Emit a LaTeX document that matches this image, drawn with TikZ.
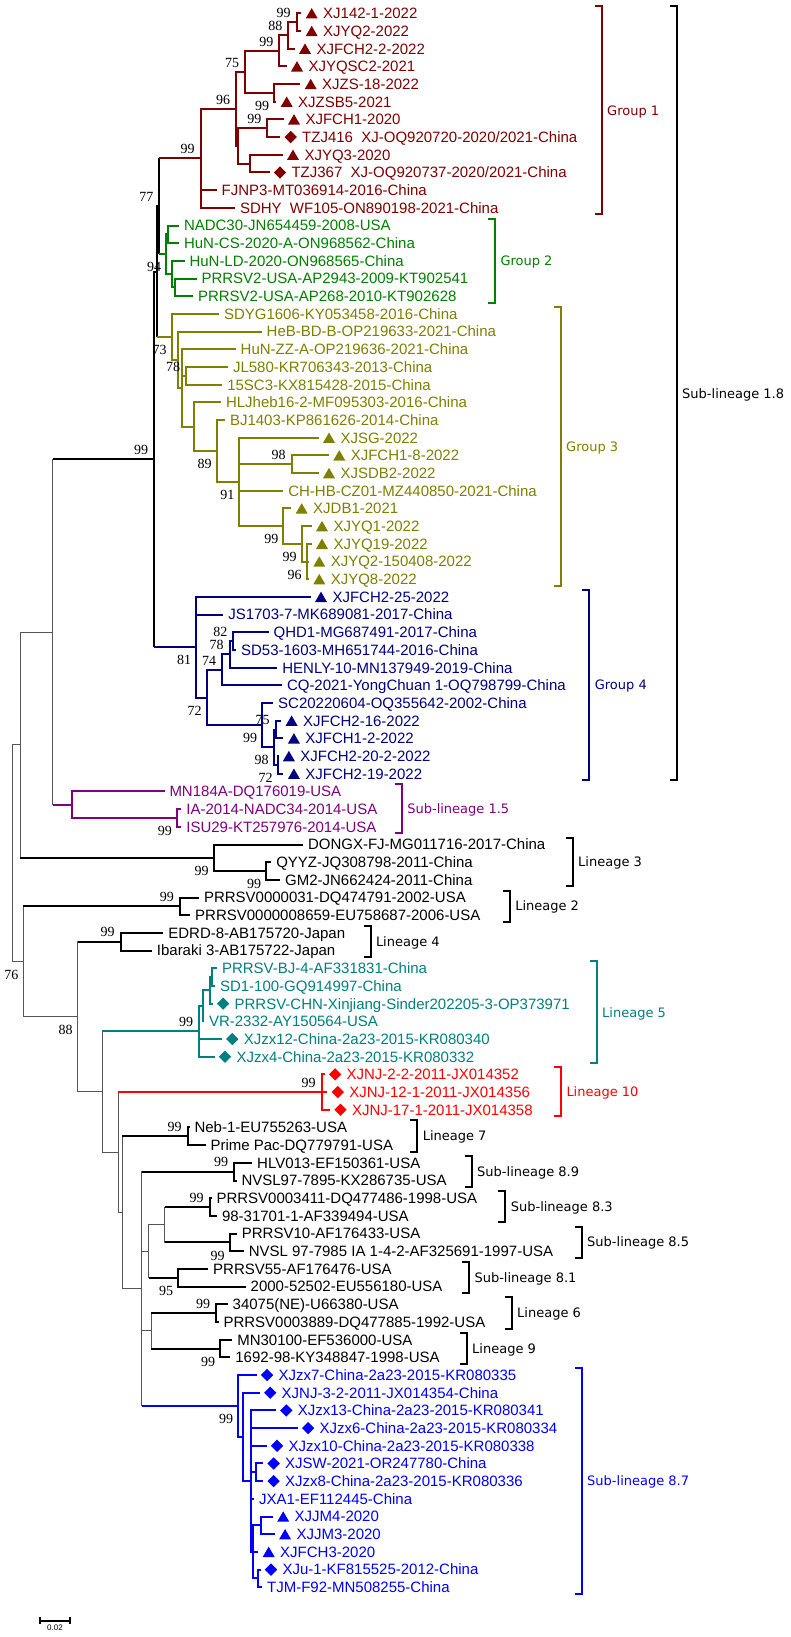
\documentclass[tikz,border=0pt]{standalone}
\usepackage{fontspec}
\setmainfont{Liberation Sans}
\newfontfamily\bsfont{Liberation Serif}
\newfontfamily\grfont{DejaVu Sans}
\usetikzlibrary{positioning}
\usetikzlibrary{shapes.geometric}
\definecolor{g1}{RGB}{128,0,0}
\definecolor{g2}{RGB}{0,128,0}
\definecolor{g3}{RGB}{128,128,0}
\definecolor{g4}{RGB}{0,0,128}
\definecolor{s15}{RGB}{128,0,128}
\definecolor{l5}{RGB}{0,128,128}
\definecolor{l10}{RGB}{255,0,0}
\definecolor{s87}{RGB}{0,0,255}
\definecolor{bbgray}{RGB}{85,85,85}

\begin{document}
\begin{tikzpicture}[
    x=1pt, y=-1pt,
    br/.style={line width=2pt},
    bb/.style={line width=1pt, draw=bbgray, line cap=rect},
    brk/.style={line width=2pt},
    lf/.style={
        anchor=west, inner sep=0pt, outer sep=0pt,
        text height=10.7pt, text depth=0pt,
        font=\fontsize{15pt}{18pt}\selectfont
    },
    bs/.style={
        inner sep=0pt, text height=9.4pt, text depth=0pt,
        font=\bsfont\fontsize{14pt}{16pt}\selectfont
    },
    grp/.style={
        anchor=west, inner sep=0pt, outer sep=0pt,
        text height=9.5pt, text depth=0pt,
        font=\grfont\fontsize{13pt}{15pt}\selectfont
    },
    tri/.style={
        regular polygon, regular polygon sides=3, fill,
        inner sep=0pt, minimum size=13.9pt, yshift=-1.7pt
    },
    dia/.style={
        diamond, fill, aspect=1, inner sep=0pt, minimum size=12.5pt
    }
]
    \fill[white] (0,0) rectangle (791,1637);
    \useasboundingbox (0,0) rectangle (791,1637);

    % leaf tips
    \foreach \i/\x in {
        0/301.2, 1/301.2, 2/294.5, 3/286.5, 4/300.2, 5/276.2, 6/283.5,
        7/280.2, 8/282.5, 9/269.5, 10/216.7, 11/235, 12/179, 13/179,
        14/184.5, 15/196.5, 16/193, 17/219, 18/261.7, 19/235.7, 20/228,
        21/222.3, 22/221, 23/225, 24/318.5, 25/328.8, 26/318.5, 27/283.3,
        28/291.2, 29/311.5, 30/311.5, 31/308.8, 32/308.8, 33/310.5,
        34/223.3, 35/268.6, 36/236.1, 37/277.4, 38/282, 39/273.2,
        40/281.1, 41/283.4, 42/278.4, 43/283.4, 44/164.5, 45/181.4,
        46/181.4, 47/303, 48/271.3, 49/280.1, 50/199, 51/190.2, 52/163.4,
        53/151.9, 54/217, 55/215, 56/212.6, 57/204, 58/221.8, 59/214.5,
        60/324.6, 61/327.3, 62/330, 63/189.5, 64/205.5, 65/252.2,
        66/236.5, 67/211.5, 68/217, 69/236.9, 70/243.8, 71/208.2,
        72/245.7, 73/227.7, 74/218.5, 75/232.3, 76/230.4, 77/256.6,
        78/259.7, 79/275.8, 80/297.6, 81/266.6, 82/263.1, 83/263.1,
        84/254, 85/272.7, 86/274.6, 87/258.2, 88/260.5, 89/262.1}
        \coordinate (t\i) at (\x,{13.3+17.685*\i});

    % inner nodes
    \coordinate (nC) at (296.7,22.15);
    \coordinate (nB) at (288.3,35.4);
    \coordinate (nA) at (279.3,50.9);
    \coordinate (nZS) at (274,92.85);
    \coordinate (n75) at (245,71.9);
    \coordinate (nF) at (267.3,128.25);
    \coordinate (nQ) at (250,163.65);
    \coordinate (nX) at (238.3,145.95);
    \coordinate (n96) at (236,108.9);
    \coordinate (g1r) at (200.7,158.35);
    \coordinate (G2a) at (168.3,234.35);
    \coordinate (G2c) at (175,287.45);
    \coordinate (G2b) at (171.7,274.2);
    \coordinate (g2r) at (166,254.3);
    \coordinate (U2) at (159.3,206.3);
    \coordinate (nJL) at (186,375.85);
    \coordinate (n98g3) at (291.7,464.25);
    \coordinate (n96g3) at (306.7,561.55);
    \coordinate (n99b) at (301.7,543.9);
    \coordinate (n99a) at (283.3,526.2);
    \coordinate (n91) at (239.3,481.95);
    \coordinate (n89) at (216.7,451.0);
    \coordinate (nH) at (194.3,426.7);
    \coordinate (G3c) at (182.3,388.0);
    \coordinate (G3b) at (178.3,359.8);
    \coordinate (g3r) at (171.7,336.85);
    \coordinate (U) at (156.7,271.6);
    \coordinate (n82) at (233.4,641.15);
    \coordinate (n78) at (229.6,654.4);
    \coordinate (n74) at (222,669.85);
    \coordinate (n75g4) at (275.5,729.55);
    \coordinate (n72b) at (277.5,764.95);
    \coordinate (n98g4) at (273.6,747.25);
    \coordinate (n99g4) at (262.1,725.1);
    \coordinate (n72) at (206.7,697.5);
    \coordinate (g4r) at (196,647.2);
    \coordinate (A) at (154,459.4);
    \coordinate (nIA) at (176.8,817.95);
    \coordinate (n15) at (71.7,804.7);
    \coordinate (P1) at (52.7,632.05);
    \coordinate (nQY) at (266,871.05);
    \coordinate (L3) at (213.5,857.8);
    \coordinate (P2) at (20,744.9);
    \coordinate (L2) at (179.9,906.4);
    \coordinate (L4) at (120.6,941.75);
    \coordinate (nBJ) at (212.4,977.15);
    \coordinate (nSD) at (209.7,990.4);
    \coordinate (nVR) at (202.8,1005.85);
    \coordinate (L5) at (199,1031.3);
    \coordinate (L10) at (321.5,1092.1);
    \coordinate (L7) at (187.5,1136.35);
    \coordinate (n89b) at (234.2,1171.65);
    \coordinate (n83) at (209.7,1207.05);
    \coordinate (n85) at (229.6,1242.4);
    \coordinate (n8385) at (164.6,1224.7);
    \coordinate (n81) at (178,1277.75);
    \coordinate (nK) at (148.5,1251.2);
    \coordinate (L6) at (216.2,1313.15);
    \coordinate (L9) at (220,1348.55);
    \coordinate (nL69) at (151.2,1330.85);
    \coordinate (nJM) at (261,1525.35);
    \coordinate (nXU) at (258.3,1578.45);
    \coordinate (nLow) at (252.6,1551.9);
    \coordinate (nSW) at (255.6,1472.35);
    \coordinate (n87c) at (250.7,1481.15);
    \coordinate (n87b) at (243,1436.9);
    \coordinate (n87) at (238,1405.95);
    \coordinate (nW) at (141.7,1288.8);
    \coordinate (nZ) at (122,1212.6);
    \coordinate (nY) at (118.3,1152.35);
    \coordinate (nX10) at (102,1091.8);
    \coordinate (n88) at (77.5,1016.8);
    \coordinate (P3) at (23.3,961.6);
    \coordinate (R) at (12.7,853.25);

    % backbone
    \foreach \pa/\ch in {R/P2, R/P3, P2/P1, P3/n88, n88/nX10, nX10/nY,
        nY/nZ, nZ/nW, nW/nK, nK/n8385, nW/nL69}
        \draw[bb] (\pa) |- (\ch);
    \foreach \pa/\ch/\col in {P1/A/black, P1/n15/s15, P2/L3/black,
        P3/L2/black, n88/L4/black, nX10/L5/l5, nY/L10/l10, nZ/L7/black,
        nW/n89b/black, nW/n87/s87, nK/n81/black, n8385/n83/black,
        n8385/n85/black, nL69/L6/black, nL69/L9/black}
    {
        \draw[bb] (\pa) -- (\pa |- \ch);
        \draw[br, \col] (\pa |- \ch) -- (\ch);
    }
    \foreach \pa/\ch in {A/U, U/U2}
        \draw[br] (\pa) |- (\ch);
    \foreach \pa/\ch/\col in {U2/g1r/g1, U2/g2r/g2, U/g3r/g3, A/g4r/g4}
    {
        \draw[br] (\pa) -- (\pa |- \ch);
        \draw[br, \col] (\pa |- \ch) -- (\ch);
    }

    % clades
    \foreach \pa/\ch in {nC/t0, nC/t1, nB/nC, nB/t2, nA/nB, nA/t3,
        nZS/t4, nZS/t5, n75/nA, n75/nZS, nF/t6, nF/t7, nQ/t8, nQ/t9,
        nX/nF, nX/nQ, n96/n75, n96/nX, g1r/n96, g1r/t10, g1r/t11}
        \draw[br, g1] (\pa) |- (\ch);
    \foreach \pa/\ch in {G2a/t12, G2a/t13, G2c/t15, G2c/t16, G2b/t14,
        G2b/G2c, g2r/G2a, g2r/G2b}
        \draw[br, g2] (\pa) |- (\ch);
    \foreach \pa/\ch in {nJL/t20, nJL/t21, n98g3/t25, n98g3/t26,
        n96g3/t30, n96g3/t31, n96g3/t32, n99b/t29, n99b/n96g3, n99a/t28,
        n99a/n99b, n91/t24, n91/n98g3, n91/t27, n91/n99a, n89/t23,
        n89/n91, nH/t22, nH/n89, G3c/t19, G3c/nJL, G3c/nH, G3b/t18,
        G3b/G3c, g3r/t17, g3r/G3b}
        \draw[br, g3] (\pa) |- (\ch);
    \foreach \pa/\ch in {n82/t35, n82/t36, n78/n82, n78/t37, n74/n78,
        n74/t38, n75g4/t40, n75g4/t41, n72b/t42, n72b/t43, n98g4/n75g4,
        n98g4/n72b, n99g4/t39, n99g4/n98g4, n72/n74, n72/n99g4,
        g4r/t33, g4r/t34, g4r/n72}
        \draw[br, g4] (\pa) |- (\ch);
    \foreach \pa/\ch in {nIA/t45, nIA/t46, n15/t44, n15/nIA}
        \draw[br, s15] (\pa) |- (\ch);
    \foreach \pa/\ch in {nQY/t48, nQY/t49, L3/t47, L3/nQY, L2/t50,
        L2/t51, L4/t52, L4/t53, L7/t63, L7/t64, n89b/t65, n89b/t66,
        n83/t67, n83/t68, n85/t69, n85/t70, n81/t71, n81/t72, L6/t73,
        L6/t74, L9/t75, L9/t76}
        \draw[br] (\pa) |- (\ch);
    \foreach \pa/\ch in {nBJ/t54, nBJ/t55, nSD/nBJ, nSD/t56, nVR/nSD,
        nVR/t57, L5/nVR, L5/t58, L5/t59}
        \draw[br, l5] (\pa) |- (\ch);
    \foreach \pa/\ch in {L10/t60, L10/t61, L10/t62}
        \draw[br, l10] (\pa) |- (\ch);
    \foreach \pa/\ch in {nJM/t85, nJM/t86, nXU/t88, nXU/t89, nLow/nJM,
        nLow/t87, nLow/nXU, nSW/t82, nSW/t83, n87c/t79, n87c/t80,
        n87c/t81, n87c/nSW, n87c/t84, n87c/nLow, n87b/t78, n87b/n87c,
        n87/t77, n87/n87b}
        \draw[br, s87] (\pa) |- (\ch);

    % markers
    \foreach \i in {0,1,2,3,4,5,6,8}
        \node[tri, g1] (m\i) at ([xshift=10.5pt]t\i) {};
    \foreach \i in {7,9}
        \node[dia, g1] (m\i) at ([xshift=10.5pt]t\i) {};
    \foreach \i in {24,25,26,28,29,30,31,32}
        \node[tri, g3] (m\i) at ([xshift=10.5pt]t\i) {};
    \foreach \i in {33,40,41,42,43}
        \node[tri, g4] (m\i) at ([xshift=10.5pt]t\i) {};
    \foreach \i in {56,58,59}
        \node[dia, l5] (m\i) at ([xshift=10.5pt]t\i) {};
    \foreach \i in {60,61,62}
        \node[dia, l10] (m\i) at ([xshift=10.5pt]t\i) {};
    \foreach \i in {77,78,79,80,81,82,83,88}
        \node[dia, s87] (m\i) at ([xshift=10.5pt]t\i) {};
    \foreach \i in {85,86,87}
        \node[tri, s87] (m\i) at ([xshift=10.5pt]t\i) {};

    % leaf names
    \foreach \i/\dx/\txt in {0/22pt/XJ142-1-2022, 1/22pt/XJYQ2-2022,
        2/22pt/XJFCH2-2-2022, 3/22pt/XJYQSC2-2021, 4/22pt/XJZS-18-2022,
        5/22pt/XJZSB5-2021, 6/22pt/XJFCH1-2020,
        7/22pt/{TZJ416\ \ XJ-OQ920720-2020/2021-China},
        8/22pt/XJYQ3-2020,
        9/22pt/{TZJ367\ \ XJ-OQ920737-2020/2021-China},
        10/5pt/FJNP3-MT036914-2016-China,
        11/5pt/{SDHY\ \ WF105-ON890198-2021-China}}
        \node[lf, g1, right=\dx of t\i] (s\i) {\txt};
    \foreach \i/\dx/\txt in {12/5pt/NADC30-JN654459-2008-USA,
        13/5pt/HuN-CS-2020-A-ON968562-China,
        14/5pt/HuN-LD-2020-ON968565-China,
        15/5pt/PRRSV2-USA-AP2943-2009-KT902541,
        16/5pt/PRRSV2-USA-AP268-2010-KT902628}
        \node[lf, g2, right=\dx of t\i] (s\i) {\txt};
    \foreach \i/\dx/\txt in {17/5pt/SDYG1606-KY053458-2016-China,
        18/5pt/HeB-BD-B-OP219633-2021-China,
        19/5pt/HuN-ZZ-A-OP219636-2021-China,
        20/5pt/JL580-KR706343-2013-China,
        21/5pt/15SC3-KX815428-2015-China,
        22/5pt/HLJheb16-2-MF095303-2016-China,
        23/5pt/BJ1403-KP861626-2014-China, 24/22pt/XJSG-2022,
        25/22pt/XJFCH1-8-2022, 26/22pt/XJSDB2-2022,
        27/5pt/CH-HB-CZ01-MZ440850-2021-China, 28/22pt/XJDB1-2021,
        29/22pt/XJYQ1-2022, 30/22pt/XJYQ19-2022,
        31/22pt/XJYQ2-150408-2022, 32/22pt/XJYQ8-2022}
        \node[lf, g3, right=\dx of t\i] (s\i) {\txt};
    \foreach \i/\dx/\txt in {33/22pt/XJFCH2-25-2022,
        34/5pt/JS1703-7-MK689081-2017-China,
        35/5pt/QHD1-MG687491-2017-China,
        36/5pt/SD53-1603-MH651744-2016-China,
        37/5pt/HENLY-10-MN137949-2019-China,
        38/5pt/CQ-2021-YongChuan 1-OQ798799-China,
        39/5pt/SC20220604-OQ355642-2002-China,
        40/22pt/XJFCH2-16-2022, 41/22pt/XJFCH1-2-2022,
        42/22pt/XJFCH2-20-2-2022, 43/22pt/XJFCH2-19-2022}
        \node[lf, g4, right=\dx of t\i] (s\i) {\txt};
    \foreach \i/\dx/\txt in {44/5pt/MN184A-DQ176019-USA,
        45/5pt/IA-2014-NADC34-2014-USA, 46/5pt/ISU29-KT257976-2014-USA}
        \node[lf, s15, right=\dx of t\i] (s\i) {\txt};
    \foreach \i/\dx/\txt in {47/5pt/DONGX-FJ-MG011716-2017-China,
        48/5pt/QYYZ-JQ308798-2011-China, 49/5pt/GM2-JN662424-2011-China,
        50/5pt/PRRSV0000031-DQ474791-2002-USA,
        51/5pt/PRRSV0000008659-EU758687-2006-USA,
        52/5pt/EDRD-8-AB175720-Japan, 53/5pt/Ibaraki 3-AB175722-Japan,
        63/5pt/Neb-1-EU755263-USA, 64/5pt/Prime Pac-DQ779791-USA,
        65/5pt/HLV013-EF150361-USA, 66/5pt/NVSL97-7895-KX286735-USA,
        67/5pt/PRRSV0003411-DQ477486-1998-USA,
        68/5pt/98-31701-1-AF339494-USA, 69/5pt/PRRSV10-AF176433-USA,
        70/5pt/NVSL 97-7985 IA 1-4-2-AF325691-1997-USA,
        71/5pt/PRRSV55-AF176476-USA, 72/5pt/2000-52502-EU556180-USA,
        73/5pt/34075(NE)-U66380-USA,
        74/5pt/PRRSV0003889-DQ477885-1992-USA,
        75/5pt/MN30100-EF536000-USA, 76/5pt/1692-98-KY348847-1998-USA}
        \node[lf, right=\dx of t\i] (s\i) {\txt};
    \foreach \i/\dx/\txt in {54/5pt/PRRSV-BJ-4-AF331831-China,
        55/5pt/SD1-100-GQ914997-China,
        56/22pt/PRRSV-CHN-Xinjiang-Sinder202205-3-OP373971,
        57/5pt/VR-2332-AY150564-USA,
        58/22pt/XJzx12-China-2a23-2015-KR080340,
        59/22pt/XJzx4-China-2a23-2015-KR080332}
        \node[lf, l5, right=\dx of t\i] (s\i) {\txt};
    \foreach \i/\dx/\txt in {60/22pt/XJNJ-2-2-2011-JX014352,
        61/22pt/XJNJ-12-1-2011-JX014356, 62/22pt/XJNJ-17-1-2011-JX014358}
        \node[lf, l10, right=\dx of t\i] (s\i) {\txt};
    \foreach \i/\dx/\txt in {77/22pt/XJzx7-China-2a23-2015-KR080335,
        78/22pt/XJNJ-3-2-2011-JX014354-China,
        79/22pt/XJzx13-China-2a23-2015-KR080341,
        80/22pt/XJzx6-China-2a23-2015-KR080334,
        81/22pt/XJzx10-China-2a23-2015-KR080338,
        82/22pt/XJSW-2021-OR247780-China,
        83/22pt/XJzx8-China-2a23-2015-KR080336,
        84/5pt/JXA1-EF112445-China, 85/22pt/XJJM4-2020,
        86/22pt/XJJM3-2020, 87/22pt/XJFCH3-2020,
        88/22pt/XJu-1-KF815525-2012-China, 89/5pt/TJM-F92-MN508255-China}
        \node[lf, s87, right=\dx of t\i] (s\i) {\txt};

    % bootstrap values
    \foreach \n/\val in {g1r/99, n96/96, n75/75, nA/99, nB/88, nC/99,
        nF/99, U2/77, nJL/78, n98g3/98, n82/82, n78/78, n74/74,
        n75g4/75, A/99, L2/99, L4/99, L5/99, L10/99, L7/99, n89b/99,
        n83/99, L6/99}
        \node[bs] (b-\n) at ([shift={(-13,-9.5)}]\n) {\val};
    \foreach \n/\val in {nZS/99, g2r/94, g3r/73, n89/89, n91/91,
        n99a/99, n99b/99, n96g3/96, g4r/81, n72/72, n99g4/99, n98g4/98,
        n72b/72, nIA/99, nQY/99, L3/99, P3/76, n88/88, n85/99, n81/95,
        L9/99, n87/99}
        \node[bs] (b-\n) at ([shift={(-12,13)}]\n) {\val};

    % brackets
    \foreach \x/\fa/\fb/\col/\txt [count=\k] in {
        601.7/0/11/g1/Group 1, 495/12/16/g2/Group 2,
        560.7/17/32/g3/Group 3, 589.3/33/43/g4/Group 4,
        676.7/0/43/black/Sub-lineage 1.8, 401.8/44/46/s15/Sub-lineage 1.5,
        572.7/47/49/black/Lineage 3, 509.8/50/51/black/Lineage 2,
        370.5/52/53/black/Lineage 4, 596.7/54/59/l5/Lineage 5,
        561/60/62/l10/Lineage 10, 417.3/63/64/black/Lineage 7,
        471.7/65/66/black/Sub-lineage 8.9, 505.3/67/68/black/Sub-lineage 8.3,
        581.7/69/70/black/Sub-lineage 8.5, 469/71/72/black/Sub-lineage 8.1,
        511.7/73/74/black/Lineage 6, 466.7/75/76/black/Lineage 9,
        581.7/77/89/s87/Sub-lineage 8.7}
    {
        \draw[brk, \col] ({\x-7},{6.3+17.685*\fa}) -- (\x,{6.3+17.685*\fa})
            -- (\x,{19.8+17.685*\fb}) -- ({\x-7},{19.8+17.685*\fb});
        \node[grp, text=\col] (grp\k) at ({\x+5.5},{13.05+8.8425*(\fa+\fb)}) {\txt};
    }

    % scale bar
    \coordinate (sbl) at (40,1620.7);
    \coordinate (sbr) at (70,1620.7);
    \draw[line width=1.8pt] ([yshift=3.5pt]sbl) -- ([yshift=-3.5pt]sbl)
        (sbl) -- (sbr) ([yshift=3.5pt]sbr) -- ([yshift=-3.5pt]sbr);
    \node[inner sep=0pt, font=\fontsize{8pt}{9pt}\selectfont, below=4pt]
        (sbtxt) at (55,1620.7) {0.02};
\end{tikzpicture}
\end{document}
